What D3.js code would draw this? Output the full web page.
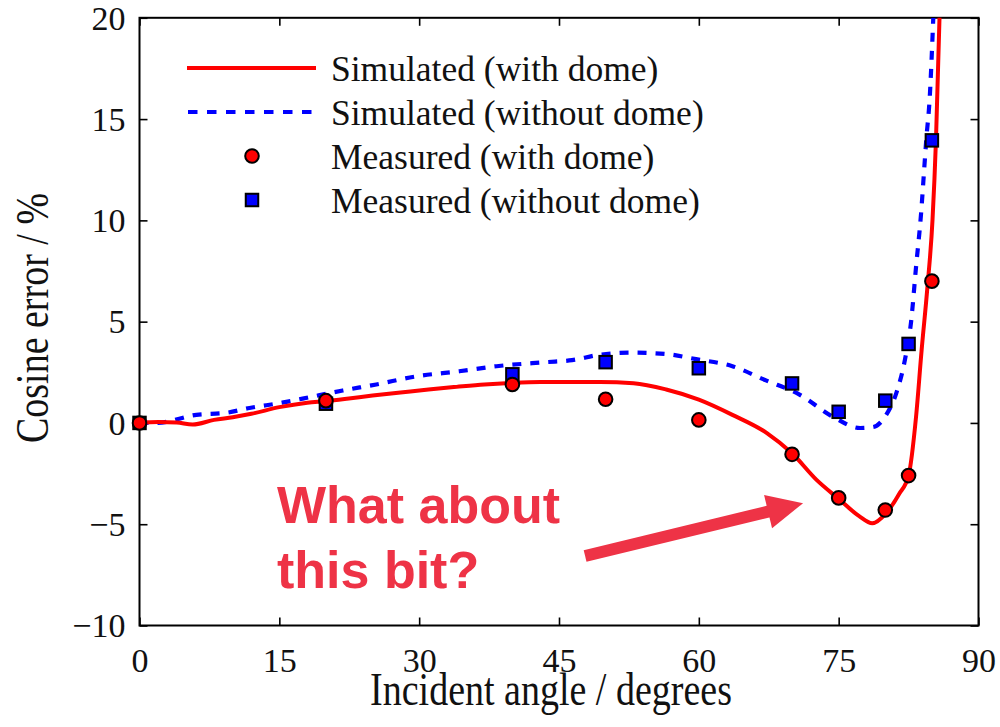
<!DOCTYPE html>
<html>
<head>
<meta charset="utf-8">
<script src="https://cdn.jsdelivr.net/npm/d3@7"></script>
<style>
  body { margin: 0; background: #fff; }
  text { font-family: "Liberation Serif", "Times New Roman", serif; fill: #111; }
</style>
</head>
<body>
<svg id="chart" width="1000" height="727"></svg>
<script>
// tick values
var xTicks = [0, 15, 30, 45, 60, 75, 90];
var yTicks = [-10, -5, 0, 5, 10, 15, 20];

// simulated, with dome (solid red)
var simWithAngle = [0, 2, 4, 5.7, 8, 10, 12, 15, 18, 20, 22, 25, 28, 31, 34, 37, 40, 43, 46, 49.4, 53, 56.5, 60, 63.6, 67.3, 70, 72.6, 75, 77.2, 78.6, 80.1, 81.5, 82.5, 83.3, 83.9, 84.5, 85.07, 85.44, 85.82];
var simWithValue = [0, 0.05, 0.02, -0.08, 0.15, 0.28, 0.45, 0.78, 1.0, 1.08, 1.18, 1.35, 1.5, 1.65, 1.78, 1.9, 1.98, 2.02, 2.02, 2.02, 1.96, 1.65, 1.15, 0.4, -0.5, -1.5, -2.8, -3.75, -4.6, -4.95, -4.45, -3.5, -2.6, 0.3, 3.6, 6.6, 10.05, 14, 20.05];

// simulated, without dome (dashed blue)
var simWithoutAngle = [0, 1.8, 6.1, 9.3, 11.8, 15.3, 17.5, 21.8, 25.4, 29.7, 34.3, 38.3, 43.6, 46.4, 49.4, 52.9, 56.5, 59.7, 63.6, 67.2, 70.8, 74.4, 77.3, 78.7, 80.1, 81.2, 82.1, 82.77, 83.3, 83.85, 84.2, 84.4, 84.76, 85.15];
var simWithoutValue = [0, 0, 0.4, 0.5, 0.74, 1.0, 1.2, 1.6, 1.9, 2.3, 2.55, 2.8, 3.0, 3.1, 3.37, 3.47, 3.4, 3.15, 2.8, 2.1, 1.4, 0.3, -0.25, -0.2, 0.4, 1.5, 3.1, 5.0, 7.7, 10.4, 12.7, 14, 16, 20];

// measured points
var measAngle = [0, 20, 40, 50, 60, 70, 75, 80, 82.5, 85];
var measWith = [0, 1.1, 1.9, 1.17, 0.15, -1.55, -3.7, -4.3, -2.6, 7.0];
var measWithout = [0, 0.95, 2.4, 3.0, 2.7, 1.95, 0.55, 1.1, 3.9, 13.95];

var legendLabels = ["Simulated (with dome)", "Simulated (without dome)", "Measured (with dome)", "Measured (without dome)"];

var svg = d3.select("#chart");
var pLeft = 139.5, pRight = 978.5, pTop = 17.8, pBottom = 625.5;

var x = d3.scaleLinear().domain([0, 90]).range([pLeft, pRight]);
var y = d3.scaleLinear().domain([-10, 20]).range([pBottom, pTop]);

var RED = "#ff0000", BLUE = "#0000ff", NOTE = "#ee3346";

svg.append("defs").append("clipPath").attr("id", "plotClip")
  .append("rect").attr("x", pLeft).attr("y", pTop)
  .attr("width", pRight - pLeft).attr("height", pBottom - pTop);

// axes with inward ticks on all four sides
var tickLen = 8;
var gx = svg.append("g").attr("transform", "translate(0," + pBottom + ")")
  .call(d3.axisBottom(x).tickValues(xTicks).tickSizeInner(-tickLen).tickSizeOuter(0).tickPadding(22));
var gxt = svg.append("g").attr("transform", "translate(0," + pTop + ")")
  .call(d3.axisTop(x).tickValues(xTicks).tickSizeInner(-tickLen).tickSizeOuter(0).tickFormat(""));
var gy = svg.append("g").attr("transform", "translate(" + pLeft + ",0)")
  .call(d3.axisLeft(y).tickValues(yTicks).tickSizeInner(-tickLen).tickSizeOuter(0).tickPadding(14));
var gyr = svg.append("g").attr("transform", "translate(" + pRight + ",0)")
  .call(d3.axisRight(y).tickValues(yTicks).tickSizeInner(-tickLen).tickSizeOuter(0).tickFormat(""));

[gx, gxt, gy, gyr].forEach(function(g) {
  g.select(".domain").remove();
  g.selectAll(".tick line").attr("stroke", "#000").attr("stroke-width", 1.6);
  g.selectAll(".tick text").attr("font-size", 34).attr("fill", "#111")
    .style("font-family", '"Liberation Serif", "Times New Roman", serif');
});
gx.selectAll(".tick text").attr("dy", "0.71em");
gy.selectAll(".tick text").attr("dy", "0.33em");

svg.append("rect").attr("x", pLeft).attr("y", pTop)
  .attr("width", pRight - pLeft).attr("height", pBottom - pTop)
  .attr("fill", "none").attr("stroke", "#000").attr("stroke-width", 2);

// axis titles (glyphs a little taller than wide, as in the source)
svg.append("text")
  .attr("transform", "translate(551,705) scale(1,1.2)")
  .attr("text-anchor", "middle").attr("font-size", 38)
  .text("Incident angle / degrees");
svg.append("text")
  .attr("transform", "translate(48,318) rotate(-90) scale(1,1.2)")
  .attr("text-anchor", "middle").attr("font-size", 38)
  .text("Cosine error / %");

// curves
var line = d3.line()
  .x(function(d) { return x(d[0]); })
  .y(function(d) { return y(d[1]); })
  .curve(d3.curveMonotoneX);

var plot = svg.append("g").attr("clip-path", "url(#plotClip)");
plot.append("path")
  .datum(d3.zip(simWithoutAngle, simWithoutValue))
  .attr("d", line).attr("fill", "none")
  .attr("stroke", BLUE).attr("stroke-width", 4.2).attr("stroke-dasharray", "9,9");
plot.append("path")
  .datum(d3.zip(simWithAngle, simWithValue))
  .attr("d", line).attr("fill", "none")
  .attr("stroke", RED).attr("stroke-width", 4);

// markers
var sq = 12.5;
svg.append("g").selectAll("rect")
  .data(d3.zip(measAngle, measWithout)).enter().append("rect")
  .attr("x", function(d) { return x(d[0]) - sq / 2; })
  .attr("y", function(d) { return y(d[1]) - sq / 2; })
  .attr("width", sq).attr("height", sq)
  .attr("fill", BLUE).attr("stroke", "#000").attr("stroke-width", 2);
svg.append("g").selectAll("circle")
  .data(d3.zip(measAngle, measWith)).enter().append("circle")
  .attr("cx", function(d) { return x(d[0]); })
  .attr("cy", function(d) { return y(d[1]); })
  .attr("r", 6.8)
  .attr("fill", RED).attr("stroke", "#000").attr("stroke-width", 2);

// legend
var legend = svg.append("g");
var rowY = [68, 112, 156, 200];
legendLabels.forEach(function(label, i) {
  var ry = rowY[i];
  if (i == 0) {
    legend.append("line").attr("x1", 187).attr("x2", 316).attr("y1", ry).attr("y2", ry)
      .attr("stroke", RED).attr("stroke-width", 4);
  } else if (i == 1) {
    legend.append("line").attr("x1", 188).attr("x2", 316).attr("y1", ry).attr("y2", ry)
      .attr("stroke", BLUE).attr("stroke-width", 4.2).attr("stroke-dasharray", "9.5,9.5");
  } else if (i == 2) {
    legend.append("circle").attr("cx", 252).attr("cy", ry).attr("r", 6.8)
      .attr("fill", RED).attr("stroke", "#000").attr("stroke-width", 2);
  } else {
    legend.append("rect").attr("x", 252 - sq / 2).attr("y", ry - sq / 2)
      .attr("width", sq).attr("height", sq)
      .attr("fill", BLUE).attr("stroke", "#000").attr("stroke-width", 2);
  }
  legend.append("text").attr("x", 331).attr("y", ry + 13)
    .attr("font-size", 35.5).text(label);
});

// annotation
var note = svg.append("g");
note.append("text").attr("x", x(14.75)).attr("y", y(-4.96))
  .attr("font-size", 52).attr("font-weight", "bold").style("fill", NOTE)
  .style("font-family", '"Liberation Sans", Arial, sans-serif')
  .text("What about");
note.append("text").attr("x", x(14.75)).attr("y", y(-8.15))
  .attr("font-size", 52).attr("font-weight", "bold").style("fill", NOTE)
  .style("font-family", '"Liberation Sans", Arial, sans-serif')
  .text("this bit?");

var tail = [x(47.8), y(-6.57)], tip = [x(71.18), y(-3.96)];
var ang = Math.atan2(tip[1] - tail[1], tip[0] - tail[0]);
var headLen = 36, headHalf = 17;
var base = [tip[0] - headLen * Math.cos(ang), tip[1] - headLen * Math.sin(ang)];
note.append("line")
  .attr("x1", tail[0]).attr("y1", tail[1])
  .attr("x2", base[0] + 2 * Math.cos(ang)).attr("y2", base[1] + 2 * Math.sin(ang))
  .attr("stroke", NOTE).attr("stroke-width", 12);
note.append("polygon")
  .attr("points", [
    tip,
    [base[0] + headHalf * Math.sin(ang), base[1] - headHalf * Math.cos(ang)],
    [base[0] - headHalf * Math.sin(ang), base[1] + headHalf * Math.cos(ang)]
  ].map(function(p) { return p.join(","); }).join(" "))
  .attr("fill", NOTE);
</script>
</body>
</html>
